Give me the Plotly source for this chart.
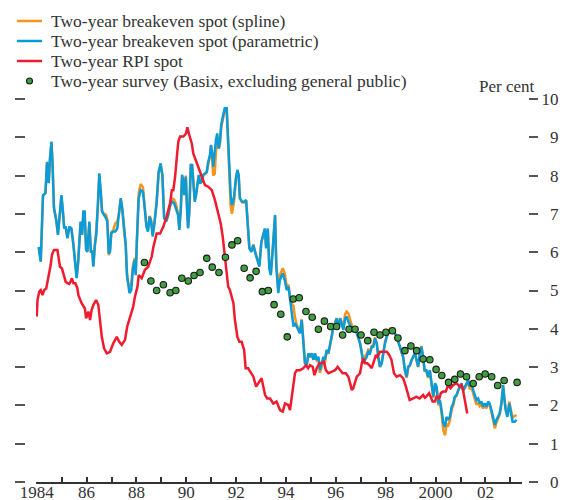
import plotly.graph_objects as go

# ---- data (decimal years, per cent) ----
be_dates = [
    1984.08, 1984.16, 1984.25, 1984.35, 1984.41, 1984.48, 1984.53, 1984.59, 1984.63, 1984.69, 1984.79, 1984.85, 1984.92, 1984.99,
    1985.04, 1985.10, 1985.16, 1985.23, 1985.31, 1985.39, 1985.47, 1985.54, 1985.60, 1985.66, 1985.71, 1985.76, 1985.82, 1985.87, 1985.92, 1985.98,
    1986.03, 1986.11, 1986.17, 1986.23, 1986.27, 1986.33, 1986.39, 1986.46, 1986.51, 1986.57, 1986.62, 1986.70, 1986.78, 1986.83, 1986.89, 1986.94, 1986.99,
    1987.07, 1987.15, 1987.23, 1987.30, 1987.37, 1987.43, 1987.50, 1987.57, 1987.62, 1987.67, 1987.72, 1987.79, 1987.86, 1987.93, 1987.97,
    1988.02, 1988.09, 1988.17, 1988.26, 1988.33, 1988.40, 1988.46, 1988.53, 1988.59, 1988.65, 1988.73, 1988.81, 1988.89, 1988.97,
    1989.04, 1989.11, 1989.19, 1989.27, 1989.35, 1989.43, 1989.51, 1989.59, 1989.67, 1989.72, 1989.78, 1989.83, 1989.88, 1989.92, 1989.98,
    1990.02, 1990.07, 1990.12, 1990.18, 1990.23, 1990.28, 1990.34, 1990.39, 1990.44, 1990.50, 1990.55, 1990.62, 1990.68, 1990.75, 1990.82, 1990.88, 1990.95, 1990.99,
    1991.03, 1991.08, 1991.14, 1991.19, 1991.24, 1991.30, 1991.35, 1991.40, 1991.48, 1991.54, 1991.62, 1991.67, 1991.73, 1991.78, 1991.83, 1991.91, 1991.99,
    1992.05, 1992.10, 1992.15, 1992.24, 1992.32, 1992.40, 1992.48, 1992.53, 1992.61, 1992.69, 1992.77, 1992.85, 1992.93,
    1993.01, 1993.09, 1993.15, 1993.20, 1993.27, 1993.33, 1993.39, 1993.47, 1993.56, 1993.61, 1993.69, 1993.75, 1993.87, 1993.95,
    1994.03, 1994.10, 1994.16, 1994.23, 1994.30, 1994.36, 1994.43, 1994.50, 1994.56, 1994.63, 1994.69, 1994.76, 1994.83, 1994.90, 1994.96,
    1995.03, 1995.10, 1995.16, 1995.23, 1995.30, 1995.36, 1995.43, 1995.50, 1995.56, 1995.63, 1995.70, 1995.76, 1995.83, 1995.90, 1995.97,
    1996.03, 1996.10, 1996.17, 1996.23, 1996.30, 1996.37, 1996.43, 1996.50, 1996.57, 1996.64, 1996.70, 1996.77, 1996.84, 1996.90, 1996.97,
    1997.04, 1997.10, 1997.17, 1997.24, 1997.30, 1997.37, 1997.44, 1997.50, 1997.57, 1997.64, 1997.70, 1997.77, 1997.84, 1997.90, 1997.97,
    1998.04, 1998.10, 1998.17, 1998.30, 1998.44, 1998.57, 1998.70, 1998.77, 1998.84, 1998.90, 1998.97,
    1999.04, 1999.10, 1999.17, 1999.24, 1999.30, 1999.37, 1999.43, 1999.50, 1999.56, 1999.63, 1999.70, 1999.77, 1999.84, 1999.91, 1999.98,
    2000.04, 2000.11, 2000.17, 2000.24, 2000.31, 2000.38, 2000.44, 2000.51, 2000.57, 2000.65, 2000.71, 2000.77, 2000.84, 2000.91, 2000.97,
    2001.04, 2001.11, 2001.17, 2001.24, 2001.31, 2001.37, 2001.44, 2001.51, 2001.57, 2001.64, 2001.71, 2001.77, 2001.84, 2001.90, 2001.97,
    2002.04, 2002.11, 2002.17, 2002.24, 2002.31, 2002.38, 2002.44, 2002.51, 2002.57, 2002.64, 2002.67, 2002.71, 2002.75, 2002.81, 2002.88, 2002.96,
    2003.03, 2003.09, 2003.17, 2003.25,
]

be_parametric = [
    6.14, 5.75, 7.49, 7.54, 8.36, 7.80, 8.45, 8.89, 8.36, 7.15, 6.80, 6.45, 6.97, 7.49,
    7.15, 6.62, 6.67, 6.36, 6.67, 6.62, 6.19, 5.67, 5.32, 5.75, 6.36, 6.80, 6.45, 7.06, 7.06, 6.06,
    6.01, 6.80, 6.01, 6.01, 5.62, 6.19, 6.45, 7.23, 8.06, 7.58, 7.06, 6.97, 6.89, 6.80, 5.97, 6.01, 6.49,
    6.54, 6.54, 6.62, 6.97, 7.41, 7.15, 6.62, 6.19, 5.40, 5.10, 4.93, 5.01, 5.58, 5.80, 5.40,
    6.36, 7.41, 7.62, 7.58, 7.15, 6.67, 6.54, 6.93, 6.80, 6.41, 6.80, 7.32, 8.10, 8.32,
    8.02, 6.89, 6.80, 6.97, 7.23, 7.32, 7.28, 7.15, 6.97, 6.58, 7.15, 8.02, 7.84, 7.49, 7.97,
    7.23, 6.62, 7.06, 8.28, 8.28, 7.84, 7.32, 7.49, 7.75, 8.02, 7.80, 7.84, 8.02, 8.06, 8.10, 8.36, 8.54, 8.80,
    8.62, 8.23, 8.67, 8.93, 9.10, 8.71, 8.89, 9.32, 9.58, 9.76, 9.76, 8.97, 7.93, 7.49, 7.23, 7.41, 7.93,
    8.15, 8.02, 7.41, 7.32, 7.32, 7.36, 6.62, 6.10, 6.01, 6.19, 5.97, 5.80, 5.62,
    6.27, 6.45, 6.62, 6.10, 6.62, 5.58, 5.40, 6.10, 6.97, 5.62, 4.93, 5.27, 5.45, 5.27,
    5.01, 5.10, 4.75, 4.32, 4.06, 4.15, 4.06, 3.97, 3.88, 4.23, 3.79, 3.10, 3.05, 3.36, 3.27,
    3.36, 3.19, 3.36, 3.19, 3.27, 2.92, 3.10, 3.27, 3.19, 3.45, 3.36, 3.53, 3.79, 4.06, 4.14,
    4.27, 4.01, 4.27, 4.14, 3.97, 4.27, 4.32, 4.19, 4.10, 4.01, 3.92, 4.01, 3.88, 3.79, 3.62,
    3.36, 3.10, 3.19, 3.27, 3.40, 3.36, 3.53, 3.53, 3.75, 3.62, 3.27, 3.01, 3.10, 3.36, 3.62,
    3.79, 3.88, 3.97, 3.97, 3.79, 3.53, 3.27, 2.92, 2.75, 3.01, 3.05,
    3.19, 3.27, 3.36, 3.19, 3.01, 3.36, 3.53, 3.27, 2.92, 2.92, 2.75, 2.92, 2.58, 2.23, 2.58,
    2.49, 2.05, 2.14, 1.88, 1.53, 1.44, 1.70, 1.62, 1.70, 1.97, 2.05, 2.23, 2.27, 2.40, 2.49,
    2.58, 2.40, 2.49, 2.58, 2.66, 2.49, 2.62, 2.40, 2.27, 2.14, 2.18, 2.05, 2.10, 1.97, 2.05,
    1.97, 2.10, 2.05, 1.88, 1.70, 1.49, 1.62, 1.70, 1.79, 2.05, 2.32, 2.53, 2.23, 1.88, 1.70, 2.05,
    1.79, 1.57, 1.57, 1.62,
]

be_spline = [
    6.10, 5.78, 7.45, 7.55, 8.30, 7.82, 8.42, 8.85, 8.38, 7.18, 6.82, 6.48, 6.95, 7.45,
    7.12, 6.65, 6.65, 6.38, 6.65, 6.60, 6.22, 5.70, 5.35, 5.72, 6.33, 6.78, 6.48, 7.02, 7.04, 6.10,
    6.03, 6.75, 6.05, 6.03, 5.65, 6.15, 6.45, 7.20, 8.00, 7.55, 7.08, 7.00, 6.98, 6.85, 5.92, 6.05, 6.52,
    6.58, 6.75, 6.80, 7.00, 7.38, 7.12, 6.60, 6.15, 5.45, 5.18, 5.12, 5.15, 5.65, 5.85, 5.45,
    6.40, 7.55, 7.78, 7.70, 7.20, 6.70, 6.58, 6.95, 6.82, 6.45, 6.82, 7.30, 8.05, 8.28,
    8.00, 6.92, 6.82, 6.95, 7.20, 7.40, 7.38, 7.25, 7.00, 6.62, 7.12, 7.98, 7.88, 7.55, 8.00,
    7.25, 6.65, 7.05, 8.25, 8.30, 7.85, 7.35, 7.50, 7.72, 8.00, 7.82, 7.85, 8.00, 8.05, 8.08, 8.30, 8.50, 8.75,
    8.55, 8.00, 8.05, 8.60, 9.00, 8.70, 8.85, 9.25, 9.50, 9.70, 9.72, 8.95, 7.80, 7.20, 7.00, 7.30, 7.90,
    8.12, 8.00, 7.40, 7.30, 7.30, 7.35, 6.60, 6.12, 6.03, 6.20, 6.00, 5.82, 5.65,
    6.25, 6.45, 6.60, 6.15, 6.55, 5.62, 5.45, 6.10, 6.95, 5.70, 5.05, 5.40, 5.58, 5.45,
    5.10, 5.15, 4.80, 4.65, 4.60, 4.30, 4.10, 4.00, 3.90, 4.25, 3.82, 3.12, 3.05, 3.35, 3.25,
    3.35, 3.20, 3.35, 3.18, 3.22, 2.85, 3.00, 3.15, 3.12, 3.40, 3.35, 3.52, 3.78, 4.05, 4.15,
    4.28, 4.03, 4.28, 4.18, 4.02, 4.38, 4.45, 4.40, 4.25, 4.05, 3.95, 4.02, 3.90, 3.80, 3.62,
    3.38, 3.15, 3.28, 3.35, 3.45, 3.40, 3.55, 3.58, 3.78, 3.62, 3.25, 3.00, 3.12, 3.40, 3.65,
    3.82, 3.92, 4.00, 3.98, 3.78, 3.52, 3.25, 2.90, 2.72, 2.98, 3.03,
    3.18, 3.25, 3.35, 3.15, 3.00, 3.38, 3.55, 3.25, 2.90, 2.88, 2.72, 2.90, 2.55, 2.20, 2.55,
    2.45, 2.00, 2.10, 1.80, 1.35, 1.22, 1.50, 1.48, 1.60, 1.90, 2.00, 2.20, 2.25, 2.38, 2.47,
    2.55, 2.38, 2.45, 2.55, 2.62, 2.42, 2.50, 2.30, 2.15, 2.02, 2.08, 1.98, 2.03, 1.92, 2.00,
    1.92, 2.05, 2.00, 1.82, 1.62, 1.40, 1.55, 1.65, 1.75, 2.02, 2.30, 2.50, 2.25, 1.92, 1.75, 2.10,
    1.85, 1.68, 1.72, 1.75,
]

rpi_dates = [
    1984.00, 1984.03, 1984.10, 1984.16, 1984.23, 1984.30, 1984.38, 1984.44, 1984.48, 1984.56, 1984.61, 1984.69, 1984.83, 1984.88, 1984.93,
    1985.01, 1985.10, 1985.16, 1985.23, 1985.30, 1985.36, 1985.41, 1985.47, 1985.55, 1985.63, 1985.67, 1985.80, 1985.93, 1985.98,
    1986.07, 1986.14, 1986.20, 1986.27, 1986.38, 1986.47, 1986.54, 1986.61, 1986.70, 1986.81, 1986.94,
    1987.07, 1987.21, 1987.31, 1987.41, 1987.54, 1987.63, 1987.71, 1987.80, 1987.87, 1987.94,
    1988.04, 1988.09, 1988.21, 1988.34, 1988.47, 1988.61, 1988.68, 1988.81, 1988.95,
    1989.08, 1989.21, 1989.35, 1989.42, 1989.48, 1989.55, 1989.62, 1989.68, 1989.75, 1989.88, 1989.99,
    1990.04, 1990.12, 1990.22, 1990.28, 1990.39, 1990.48, 1990.55, 1990.62, 1990.75, 1990.88,
    1991.02, 1991.15, 1991.28, 1991.38, 1991.46, 1991.55, 1991.62, 1991.68, 1991.75, 1991.89, 1991.95,
    1992.05, 1992.13, 1992.22, 1992.32, 1992.38, 1992.48, 1992.58, 1992.69, 1992.80, 1992.89,
    1993.02, 1993.09, 1993.16, 1993.25, 1993.36, 1993.49, 1993.62, 1993.76, 1993.87, 1993.96,
    1994.09, 1994.16, 1994.23, 1994.29, 1994.36, 1994.43, 1994.56, 1994.69, 1994.80, 1994.89, 1994.96,
    1995.07, 1995.14, 1995.23, 1995.34, 1995.43, 1995.52, 1995.60, 1995.70, 1995.84, 1995.97,
    1996.07, 1996.17, 1996.27, 1996.40, 1996.50, 1996.57, 1996.64, 1996.70, 1996.77, 1996.84, 1996.90, 1996.97,
    1997.04, 1997.10, 1997.17, 1997.26, 1997.34, 1997.44, 1997.50, 1997.61, 1997.66, 1997.77, 1997.90,
    1998.04, 1998.14, 1998.23, 1998.33, 1998.44, 1998.57, 1998.70, 1998.81, 1998.90, 1998.96,
    1999.10, 1999.23, 1999.36, 1999.50, 1999.57, 1999.63, 1999.74, 1999.80, 1999.88, 1999.97,
    2000.04, 2000.15, 2000.21, 2000.30, 2000.41, 2000.50, 2000.60, 2000.70, 2000.84, 2000.97,
    2001.04, 2001.10, 2001.17, 2001.27,
]

rpi_values = [
    4.32, 4.75, 4.97, 5.01, 4.88, 5.01, 5.05, 5.23, 5.40, 5.67, 5.93, 6.06, 6.06, 5.84, 5.62,
    5.58, 5.36, 5.23, 5.19, 5.17, 5.23, 5.32, 5.19, 5.19, 5.06, 4.88, 4.67, 4.53, 4.27,
    4.45, 4.23, 4.49, 4.62, 4.75, 4.62, 4.23, 3.79, 3.49, 3.36, 3.40,
    3.62, 3.79, 3.66, 3.58, 3.71, 4.06, 4.23, 4.45, 4.58, 4.84,
    5.10, 5.40, 5.32, 5.54, 5.62, 5.88, 6.14, 6.49, 6.49,
    6.67, 6.93, 7.28, 7.62, 7.62, 7.97, 8.49, 8.89, 9.02, 9.02, 9.10,
    9.26, 9.06, 8.84, 8.58, 8.36, 8.19, 8.10, 7.97, 7.75, 7.71,
    7.62, 7.36, 7.02, 6.75, 6.41, 5.88, 5.36, 5.10, 5.01, 4.67, 4.23,
    3.79, 3.66, 3.66, 3.45, 2.97, 2.97, 2.88, 2.75, 2.49, 2.58,
    2.71, 2.49, 2.27, 2.18, 2.18, 2.05, 2.10, 1.88, 1.84, 2.05,
    2.01, 1.88, 2.23, 2.49, 2.84, 2.92, 2.92, 2.97, 3.05, 2.97, 3.05,
    3.01, 2.79, 2.97, 3.10, 3.10, 3.14, 2.92, 2.84, 2.88, 2.92,
    3.01, 2.92, 2.84, 2.84, 2.75, 2.58, 2.40, 2.45, 2.62, 2.75, 2.79, 2.84,
    3.10, 3.23, 3.10, 3.10, 3.05, 2.97, 3.10, 3.32, 3.27, 3.40, 3.40,
    3.40, 3.32, 3.19, 2.84, 2.75, 2.79, 2.71, 2.49, 2.23, 2.14,
    2.18, 2.23, 2.18, 2.27, 2.20, 2.23, 2.32, 2.20, 2.10, 2.10,
    2.23, 2.18, 2.32, 2.36, 2.36, 2.53, 2.45, 2.53, 2.58, 2.49,
    2.53, 2.40, 2.14, 1.79,
]

survey_dates = [
    1988.32, 1988.58, 1988.81, 1989.08, 1989.35, 1989.58, 1989.82, 1990.08, 1990.31, 1990.55,
    1990.82, 1991.04, 1991.31, 1991.57, 1991.83, 1992.06, 1992.32, 1992.56, 1992.80, 1993.05,
    1993.29, 1993.52, 1993.79, 1994.05, 1994.29, 1994.53, 1994.80, 1995.05, 1995.30, 1995.54,
    1995.79, 1996.03, 1996.27, 1996.53, 1996.77, 1997.01, 1997.28, 1997.53, 1997.77, 1998.01,
    1998.27, 1998.49, 1998.77, 1999.01, 1999.24, 1999.50, 1999.77, 2000.02, 2000.25, 2000.52,
    2000.77, 2001.00, 2001.24, 2001.51, 2001.75, 2001.99, 2002.25, 2002.49, 2002.75, 2003.27,
]

survey_values = [
    5.73, 5.25, 5.00, 5.15, 4.94, 5.00, 5.32, 5.25, 5.39, 5.47,
    5.84, 5.61, 5.47, 5.87, 6.19, 6.30, 5.58, 5.33, 5.50, 4.97,
    5.00, 4.63, 4.38, 3.79, 4.78, 4.81, 4.45, 4.30, 3.99, 4.20,
    4.06, 4.06, 3.84, 3.99, 3.99, 3.84, 3.69, 3.91, 3.84, 3.91,
    3.95, 3.76, 3.43, 3.55, 3.43, 3.21, 3.19, 2.94, 2.78, 2.60,
    2.68, 2.82, 2.75, 2.57, 2.75, 2.82, 2.75, 2.52, 2.65, 2.60,
]

year_ticks = list(range(1984, 2004))
year_labels = ["1984", "", "86", "", "88", "", "90", "", "92", "", "94", "", "96", "", "98", "", "2000", "", "02", ""]
pct_ticks = list(range(0, 11))
pct_labels = ["\u2007" + str(v) if v < 10 else str(v) for v in pct_ticks]

series_names = ["Two-year breakeven spot (spline)", "Two-year breakeven spot (parametric)",
                "Two-year RPI spot", "Two-year survey (Basix, excluding general public)"]

# ---- figure ----
SERIF = "Liberation Serif"
TXT = "#333333"
ORANGE, BLUE, RED, GREEN = "#F7941D", "#0B9BD7", "#EE1C2E", "#3F9E3F"

W, H = 563, 500
ML, MR, MT, MB = 10, 10, 5, 10
PW, PH = W - ML - MR, H - MT - MB


def px(x):
    return (x - ML) / PW


def py(y):
    return (H - MB - y) / PH


fig = go.Figure()
fig.add_trace(go.Scatter(x=be_dates, y=be_spline, mode="lines", name=series_names[0],
                         line=dict(color=ORANGE, width=2.5)))
fig.add_trace(go.Scatter(x=be_dates, y=be_parametric, mode="lines", name=series_names[1],
                         line=dict(color=BLUE, width=2.5)))
fig.add_trace(go.Scatter(x=rpi_dates, y=rpi_values, mode="lines", name=series_names[2],
                         line=dict(color=RED, width=2.5)))
fig.add_trace(go.Scatter(x=survey_dates, y=survey_values, mode="markers", name=series_names[3],
                         yaxis="y2",
                         marker=dict(size=6.5, color=GREEN, line=dict(color="#1A1A1A", width=1.1))))

# hand-drawn legend (rows 20px apart, like the original)
shapes, annotations = [], []
legend_rows = [21, 41, 61, 81]
for name, color, row in zip(series_names[:3], [ORANGE, BLUE, RED], legend_rows[:3]):
    shapes.append(dict(type="line", xref="paper", yref="paper", x0=px(17), x1=px(42), y0=py(row), y1=py(row),
                       line=dict(color=color, width=2.5)))
shapes.append(dict(type="circle", xref="paper", yref="paper", x0=px(26.5), x1=px(32.5), y0=py(84), y1=py(78),
                   fillcolor=GREEN, line=dict(color="#1A1A1A", width=1.1)))
for name, row in zip(series_names, legend_rows):
    annotations.append(dict(text=name, xref="paper", yref="paper", x=px(49), y=py(row),
                            xanchor="left", yanchor="middle", showarrow=False,
                            font=dict(family=SERIF, size=17.5, color=TXT)))
annotations.append(dict(text="Per cent", xref="paper", yref="paper", x=px(537), y=py(87),
                        xanchor="right", yanchor="middle", showarrow=False,
                        font=dict(family=SERIF, size=17, color=TXT)))

ydom = [py(482), py(99)]

fig.update_layout(
    width=W, height=H,
    margin=dict(l=ML, r=MR, t=MT, b=MB),
    paper_bgcolor="white", plot_bgcolor="white",
    font=dict(family=SERIF, size=17, color=TXT),
    showlegend=False,
    xaxis=dict(domain=[px(36), px(521.7)], range=[1983.97, 2003.455],
               tickmode="array", tickvals=year_ticks, ticktext=year_labels,
               ticks="inside", ticklen=5, tickwidth=1.5, tickcolor=TXT,
               showline=True, linecolor=TXT, linewidth=1.5,
               showgrid=False, zeroline=False, automargin=False, ticklabelstandoff=-6,
               tickfont=dict(family=SERIF, size=17, color=TXT)),
    yaxis=dict(domain=ydom, range=[0, 10], anchor="free", position=px(25), side="left",
               tickmode="array", tickvals=pct_ticks, showticklabels=False,
               ticks="outside", ticklen=10, tickwidth=2, tickcolor="#555555",
               showline=False, showgrid=False, zeroline=False, automargin=False),
    yaxis2=dict(domain=ydom, range=[0, 10], anchor="free", position=px(528), side="right",
                overlaying="y", tickmode="array", tickvals=pct_ticks, ticktext=pct_labels,
                ticks="outside", ticklen=9, tickwidth=2, tickcolor="#555555",
                showline=False, showgrid=False, zeroline=False, automargin=False,
                tickfont=dict(family=SERIF, size=17, color=TXT)),
    shapes=shapes,
    annotations=annotations,
)

# the page's default 8px body margin would push the whole chart down and right
fig.write_html("out.html", config={"displayModeBar": False},
               post_script="document.body.style.margin = '0px';")
